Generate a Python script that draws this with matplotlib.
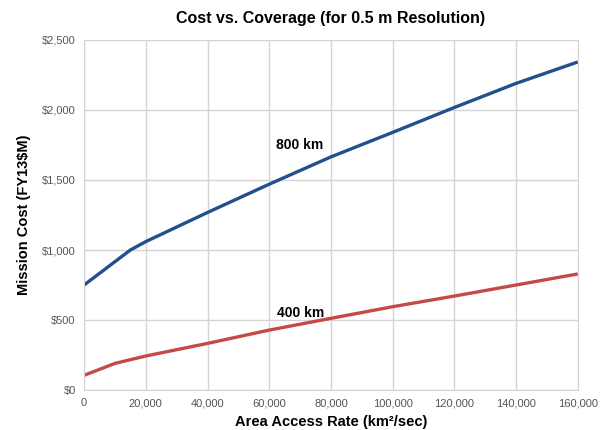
import matplotlib.pyplot as plt
from matplotlib.ticker import FuncFormatter

# data
rate_800 = [0, 15000, 20000, 40000, 60000, 80000, 100000, 120000, 140000, 160000]
cost_800 = [750, 1000, 1060, 1268, 1470, 1665, 1840, 2018, 2190, 2343]

rate_400 = [0, 10000, 20000, 40000, 60000, 80000, 100000, 120000, 140000, 160000]
cost_400 = [105, 190, 243, 333, 428, 512, 595, 671, 750, 829]

x_ticks = list(range(0, 160001, 20000))
y_ticks = list(range(0, 2501, 500))

plt.rcParams['font.family'] = ['Liberation Sans', 'DejaVu Sans']

fig = plt.figure(figsize=(6.05, 4.3), dpi=100)
ax = fig.add_axes([0.139, 0.093, 0.816, 0.814])

ax.plot(rate_800, cost_800, c='#22508c', lw=2.4, solid_capstyle='butt')
ax.plot(rate_400, cost_400, c='#c44a47', lw=2.4, solid_capstyle='butt')

ax.text(70000, 1750, '800 km', fontsize=10, fontweight='bold', ha='center', va='center')
ax.text(70300, 552, '400 km', fontsize=10, fontweight='bold', ha='center', va='center')

ax.set_xlim(0, 160000)
ax.set_ylim(0, 2500)
ax.set_xticks(x_ticks)
ax.set_yticks(y_ticks)
ax.xaxis.set_major_formatter(FuncFormatter(lambda v, p: '{:,.0f}'.format(v)))
ax.yaxis.set_major_formatter(FuncFormatter(lambda v, p: '${:,.0f}'.format(v)))
ax.tick_params(length=0, labelsize=8, labelcolor='#555555', pad=6)
ax.grid(True, color='#d4d4d4', lw=1)
for s in ax.spines.values():
    s.set_color('#d4d4d4')

ax.set_title('Cost vs. Coverage (for 0.5 m Resolution)', fontsize=11.5, fontweight='bold', pad=12)
ax.set_xlabel('Area Access Rate (km²/sec)', fontsize=10.5, fontweight='bold', labelpad=5)
ax.set_ylabel('Mission Cost (FY13$M)', fontsize=10.5, fontweight='bold', labelpad=8)

fig.savefig('out.png', dpi=100)
